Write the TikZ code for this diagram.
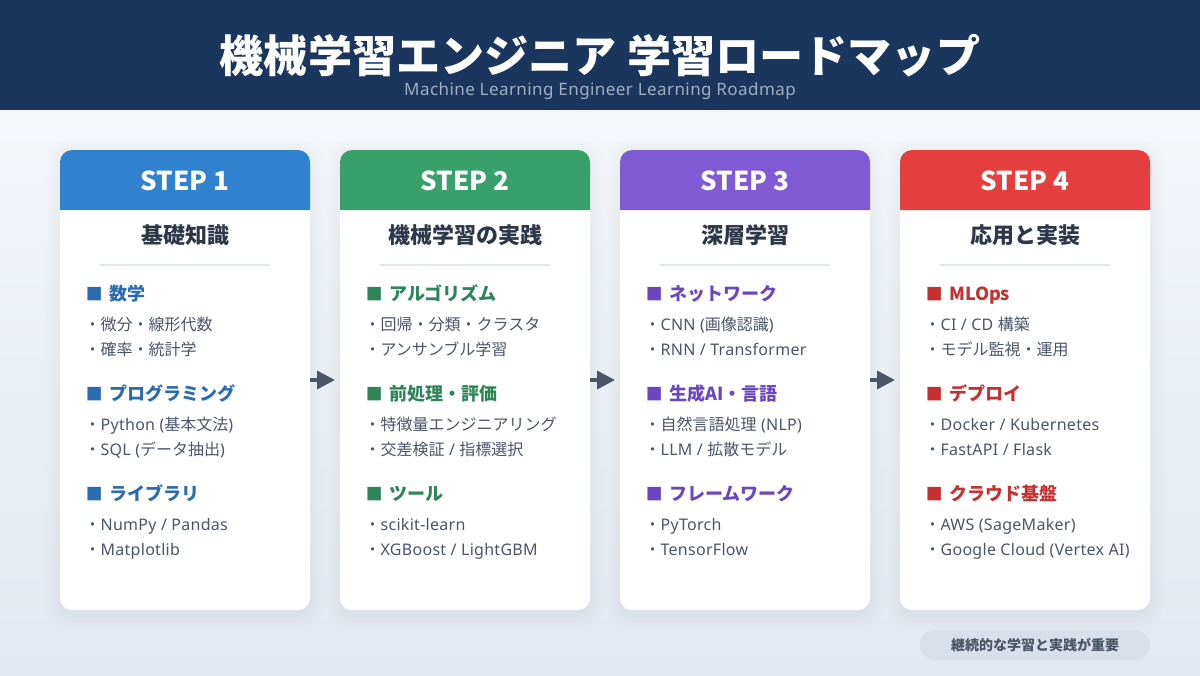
\documentclass[tikz,border=0pt]{standalone}
\usepackage{fontspec}
\setmainfont{Noto Sans CJK JP}
\newfontfamily\latinface[LetterSpace=1.8]{Noto Sans}
\newfontfamily\subface[LetterSpace=2.5]{Noto Sans}
\usetikzlibrary{arrows.meta,positioning}
\definecolor{barnavy}{HTML}{1A365D}
\definecolor{bgtop}{HTML}{F7FAFC}
\definecolor{bgbottom}{HTML}{E2E8F0}
\definecolor{subgray}{HTML}{A0AEC0}
\definecolor{titlegray}{HTML}{2D3748}
\definecolor{itemgray}{HTML}{4A5568}
\definecolor{pillgray}{HTML}{D8DFE8}
\definecolor{stepblue}{HTML}{3182CE}
\definecolor{headblue}{HTML}{2B6CB0}
\definecolor{stepgreen}{HTML}{38A169}
\definecolor{headgreen}{HTML}{2F855A}
\definecolor{steppurple}{HTML}{805AD5}
\definecolor{headpurple}{HTML}{6B46C1}
\definecolor{stepred}{HTML}{E53E3E}
\definecolor{headred}{HTML}{C53030}
\newcommand{\fsize}[1]{\fontsize{#1}{#1}\selectfont}
\newcommand{\la}[1]{{\latinface #1}}
\newcommand{\sq}{\makebox[16.5pt][l]{\hspace*{-1pt}\fsize{12.6}■}}
\newcommand{\cardshadow}[1]{\foreach \r in {2,4,...,16} \fill[black, opacity=0.005, rounded corners=9pt+\r*0.75pt] (#1-\r,154-\r) rectangle (#1+250+\r,614+\r);}
\newcommand{\cardtop}[2]{\fill[#2] (#1,210) -- (#1,162) arc[start angle=180, end angle=270, radius=12] -- (#1+238,150) arc[start angle=270, end angle=360, radius=12] -- (#1+250,210) -- cycle;}
\tikzset{
  card/.style={fill=white, rounded corners=9pt, minimum width=187.5pt, minimum height=345pt, inner sep=0pt, outer sep=0pt},
  steplabel/.style={text=white, font=\fsize{19.5}\bfseries, inner sep=0pt},
  cardtitle/.style={text=titlegray, font=\fsize{16.5}\bfseries, inner sep=0pt},
  titlerule/.style={draw=bgbottom, line width=1.5pt},
  headtext/.style={font=\fsize{13.5}\bfseries, inner sep=0pt, anchor=base west},
  itemtext/.style={text=itemgray, font=\fsize{12}, inner sep=0pt},
  nextitem/.style={below=18.75pt of #1.base west, anchor=base west},
  firstitem/.style={below=22.5pt of #1.base west, anchor=base west, xshift=-2pt},
  nexthead/.style={below=33.75pt of #1.base west, anchor=base west, xshift=2pt},
  flowarrow/.style={draw=itemgray, line width=2.6pt, -{Triangle[length=13.5pt, width=13.5pt]}, shorten >=3.75pt}
}
\begin{document}
\begin{tikzpicture}[x=0.75pt, y=-0.75pt]
\useasboundingbox (0,0) rectangle (1200,675);
\shade [top color=bgtop, bottom color=bgbottom] (0,0) rectangle (1200,675);
\fill [barnavy] (0,0) rectangle (1200,110);
\node [text=white, font=\fsize{33.1}\bfseries, inner sep=0pt] (maintitle) at (600,56) {機械学習エンジニア 学習ロードマップ};
\node [text=subgray, font=\fsize{12.75}\subface, inner sep=0pt] (subtitle) at (600,91) {Machine Learning Engineer Learning Roadmap};

\cardshadow{60}
\cardshadow{340}
\cardshadow{620}
\cardshadow{900}
\node [card] (card1) at (185,380) {};
\node [card] (card2) at (465,380) {};
\node [card] (card3) at (745,380) {};
\node [card] (card4) at (1025,380) {};
\cardtop{60}{stepblue}
\cardtop{340}{stepgreen}
\cardtop{620}{steppurple}
\cardtop{900}{stepred}

\node [steplabel] (step1) at (185,181) {STEP 1};
\node [steplabel] (step2) at (465,181) {STEP 2};
\node [steplabel] (step3) at (745,181) {STEP 3};
\node [steplabel] (step4) at (1025,181) {STEP 4};
\node [cardtitle] (title1) at (185,235) {基礎知識};
\node [cardtitle] (title2) at (465,235) {機械学習の実践};
\node [cardtitle] (title3) at (745,235) {深層学習};
\node [cardtitle] (title4) at (1025,235) {応用と実装};
\draw [titlerule] (100,265) -- (270,265);
\draw [titlerule] (380,265) -- (550,265);
\draw [titlerule] (660,265) -- (830,265);
\draw [titlerule] (940,265) -- (1110,265);

\node [headtext, text=headblue] (head1a) at (87,300) {\sq 数学};
\node [itemtext, firstitem=head1a] (item1a) {・微分・線形代数};
\node [itemtext, nextitem=item1a] (item1b) {・確率・統計学};
\node [headtext, text=headblue, nexthead=item1b] (head1b) {\sq プログラミング};
\node [itemtext, firstitem=head1b] (item1c) {・\la{Python (}基本文法\la{)}};
\node [itemtext, nextitem=item1c] (item1d) {・\la{SQL (}データ抽出\la{)}};
\node [headtext, text=headblue, nexthead=item1d] (head1c) {\sq ライブラリ};
\node [itemtext, firstitem=head1c] (item1e) {・\la{NumPy / Pandas}};
\node [itemtext, nextitem=item1e] (item1f) {・\la{Matplotlib}};

\node [headtext, text=headgreen] (head2a) at (367,300) {\sq アルゴリズム};
\node [itemtext, firstitem=head2a] (item2a) {・回帰・分類・クラスタ};
\node [itemtext, nextitem=item2a] (item2b) {・アンサンブル学習};
\node [headtext, text=headgreen, nexthead=item2b] (head2b) {\sq 前処理・評価};
\node [itemtext, firstitem=head2b] (item2c) {・特徴量エンジニアリング};
\node [itemtext, nextitem=item2c] (item2d) {・交差検証\la{ / }指標選択};
\node [headtext, text=headgreen, nexthead=item2d] (head2c) {\sq ツール};
\node [itemtext, firstitem=head2c] (item2e) {・\la{scikit-learn}};
\node [itemtext, nextitem=item2e] (item2f) {・\la{XGBoost / LightGBM}};

\node [headtext, text=headpurple] (head3a) at (647,300) {\sq ネットワーク};
\node [itemtext, firstitem=head3a] (item3a) {・\la{CNN (}画像認識\la{)}};
\node [itemtext, nextitem=item3a] (item3b) {・\la{RNN / Transformer}};
\node [headtext, text=headpurple, nexthead=item3b] (head3b) {\sq 生成AI・言語};
\node [itemtext, firstitem=head3b] (item3c) {・自然言語処理\la{ (NLP)}};
\node [itemtext, nextitem=item3c] (item3d) {・\la{LLM / }拡散モデル};
\node [headtext, text=headpurple, nexthead=item3d] (head3c) {\sq フレームワーク};
\node [itemtext, firstitem=head3c] (item3e) {・\la{PyTorch}};
\node [itemtext, nextitem=item3e] (item3f) {・\la{TensorFlow}};

\node [headtext, text=headred] (head4a) at (927,300) {\sq MLOps};
\node [itemtext, firstitem=head4a] (item4a) {・\la{CI / CD }構築};
\node [itemtext, nextitem=item4a] (item4b) {・モデル監視・運用};
\node [headtext, text=headred, nexthead=item4b] (head4b) {\sq デプロイ};
\node [itemtext, firstitem=head4b] (item4c) {・\la{Docker / Kubernetes}};
\node [itemtext, nextitem=item4c] (item4d) {・\la{FastAPI / Flask}};
\node [headtext, text=headred, nexthead=item4d] (head4c) {\sq クラウド基盤};
\node [itemtext, firstitem=head4c] (item4e) {・\la{AWS (SageMaker)}};
\node [itemtext, nextitem=item4e] (item4f) {・\la{Google Cloud (Vertex AI)}};

\path [flowarrow] (card1) -- (card2);
\path [flowarrow] (card2) -- (card3);
\path [flowarrow] (card3) -- (card4);

\node [fill=pillgray, rounded corners=11.25pt, minimum width=172.5pt, minimum height=22.5pt, inner sep=0pt] (pill) at (1035,645) {};
\node [text=itemgray, font=\fsize{10.5}\bfseries, inner sep=0pt] (pilltext) at (1035,645) {継続的な学習と実践が重要};
\end{tikzpicture}
\end{document}
